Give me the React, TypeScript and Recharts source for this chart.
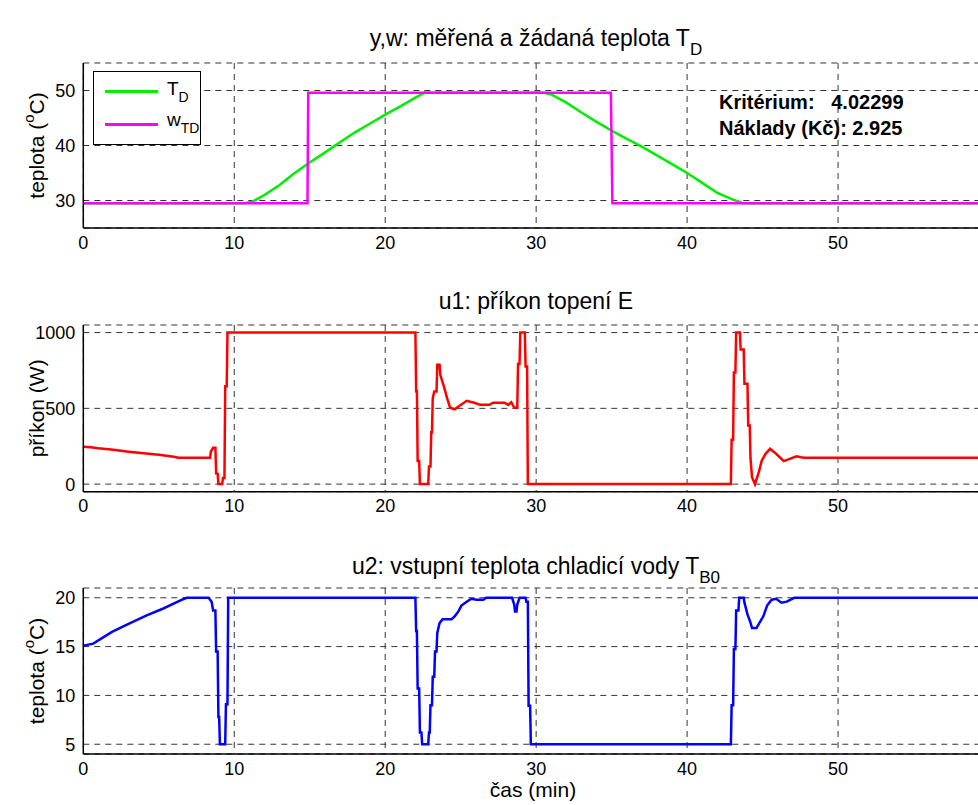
import React from 'react';
import { LineChart, Line, XAxis, YAxis, CartesianGrid, Label } from 'recharts';

// time axis (min)
const xTicks = [0, 10, 20, 30, 40, 50];

// top panel: measured T_D and setpoint w_TD
const tdTime = [0, 10.7, 11.2, 12, 13, 14, 15, 16, 17, 18, 19, 20, 21, 22, 22.6, 30.5, 31, 32, 33, 34, 35, 36, 37, 38, 39, 40, 41, 42, 43, 43.7, 60];
const tdTemp = [29.5, 29.5, 29.8, 31.0, 32.8, 35.0, 36.9, 38.7, 40.6, 42.4, 44.0, 45.6, 47.1, 48.7, 49.6, 49.6, 49.3, 47.8, 46.0, 44.3, 42.7, 41.2, 39.8, 38.2, 36.6, 35.0, 33.2, 31.4, 30.2, 29.5, 29.5];
const wTime = [0, 14.85, 14.9, 34.95, 35.05, 60];
const wTemp = [29.5, 29.5, 49.6, 49.6, 29.5, 29.5];
const tempTicks = [30, 40, 50];

// middle panel: heater power u1
const u1Time = [0, 0.5, 1, 2, 3, 4, 5, 6, 6.3, 8.4, 8.45, 8.6, 8.75, 8.8, 8.9, 8.95, 9.2, 9.25, 9.35, 9.4, 9.5, 9.55, 22.0, 22.05, 22.1, 22.15, 22.25, 22.3, 22.85, 22.9, 23.0, 23.05, 23.1, 23.15, 23.25, 23.4, 23.45, 23.6, 23.65, 23.9, 24.1, 24.3, 24.6, 24.95, 25.4, 25.9, 26.3, 26.9, 27.15, 27.9, 28.15, 28.35, 28.55, 28.75, 28.8, 28.9, 28.95, 29.25, 29.3, 29.4, 29.45, 42.9, 42.95, 43.05, 43.1, 43.2, 43.25, 43.5, 43.55, 43.75, 43.8, 44.0, 44.05, 44.15, 44.2, 44.3, 44.5, 44.75, 44.95, 45.2, 45.5, 45.9, 46.4, 46.8, 47.25, 47.7, 60];
const u1Power = [246, 243, 236, 226, 214, 204, 193, 180, 174, 174, 215, 240, 240, 70, 68, 0, 0, 40, 40, 646, 646, 1000, 1000, 613, 613, 152, 152, 0, 0, 117, 117, 343, 343, 567, 611, 611, 787, 787, 721, 640, 567, 504, 494, 519, 550, 537, 523, 523, 537, 537, 523, 541, 504, 504, 793, 793, 1000, 1000, 776, 776, 0, 0, 293, 293, 736, 736, 1000, 1000, 888, 888, 662, 662, 387, 387, 171, 46, 0, 79, 156, 200, 233, 200, 152, 167, 183, 174, 174];
const powerTicks = [0, 500, 1000];

// bottom panel: cooling water inlet temperature u2
const u2Time = [0, 0.66, 1.9, 3.1, 4.2, 5.3, 6.4, 6.85, 8.3, 8.5, 8.6, 8.75, 8.8, 8.9, 8.95, 9.0, 9.05, 9.4, 9.45, 9.55, 9.6, 22.0, 22.05, 22.1, 22.15, 22.25, 22.3, 22.4, 22.45, 22.85, 22.9, 22.95, 23.0, 23.1, 23.15, 23.25, 23.3, 23.4, 23.45, 23.6, 23.8, 24.4, 24.6, 24.85, 25.05, 25.4, 25.7, 26.05, 26.5, 26.7, 28.4, 28.55, 28.6, 28.7, 28.75, 28.9, 29.3, 29.35, 29.45, 29.5, 29.6, 29.65, 42.9, 42.95, 43.05, 43.1, 43.2, 43.25, 43.4, 43.45, 43.75, 43.8, 44.0, 44.2, 44.3, 44.6, 44.8, 45.05, 45.3, 45.6, 45.9, 46.25, 46.6, 47.1, 60];
const u2Temp = [15.1, 15.3, 16.5, 17.4, 18.2, 18.9, 19.7, 20, 20, 19.6, 18.7, 18.7, 14.5, 14.5, 7.8, 7.8, 5, 5, 9.1, 9.1, 20, 20, 16.6, 16.6, 10.7, 10.7, 6.2, 6.2, 5, 5, 6.2, 6.2, 9.0, 9.0, 11.9, 11.9, 14.5, 14.5, 16.4, 17.4, 17.8, 17.8, 18.1, 18.6, 19.2, 19.6, 19.9, 19.8, 19.8, 20, 20, 19.3, 18.6, 18.6, 19.3, 20, 20, 19.6, 19.6, 8.95, 8.95, 5, 5, 9.0, 9.0, 14.75, 14.75, 18.7, 18.7, 20, 20, 19.5, 18.3, 17.45, 16.9, 16.9, 17.45, 18.1, 19.2, 19.8, 19.9, 19.5, 19.6, 20, 20];
const waterTicks = [5, 10, 15, 20];

const zip = (t: number[], v: number[]) => t.map((x, i) => ({ t: x, v: v[i] }));

const FONT = '"Liberation Sans", Arial, Helvetica, sans-serif';
const PAD_TOP = 10;
const PAD_BOTTOM = 45;
const TICK_FONT = 18;
const LABEL_FONT = 21;

type Series = { data: { t: number; v: number }[]; color: string };

function Panel({ top, bottom, yDomain, yTicks, yLabel, series }: {
  top: number; bottom: number; yDomain: [number, number]; yTicks: number[];
  yLabel: React.ReactNode; series: Series[];
}) {
  const plotH = bottom - top;
  const h = plotH + PAD_TOP + PAD_BOTTOM;
  const cy = PAD_TOP + plotH / 2;
  return (
    <div style={{ position: 'absolute', left: 0, top: top - PAD_TOP }}>
      <LineChart width={1000} height={h} margin={{ top: PAD_TOP, right: 11, bottom: PAD_BOTTOM - 30, left: 33.3 }}>
        <CartesianGrid stroke="#333" strokeDasharray="6 5" />
        <XAxis
          type="number"
          dataKey="t"
          domain={[0, 60]}
          ticks={xTicks}
          interval={0}
          height={30}
          tickLine={false}
          axisLine={{ stroke: '#000', strokeWidth: 1.5 }}
          tick={{ fill: '#000', fontSize: TICK_FONT, fontFamily: FONT }}
          allowDataOverflow
        />
        <XAxis xAxisId="top" orientation="top" type="number" domain={[0, 60]} height={0} tick={false} tickLine={false} axisLine={{ stroke: '#000', strokeWidth: 1.5 }} />
        <YAxis
          type="number"
          domain={yDomain}
          ticks={yTicks}
          interval={0}
          width={50}
          tickLine={false}
          axisLine={{ stroke: '#000', strokeWidth: 1.5 }}
          tick={{ fill: '#000', fontSize: TICK_FONT, fontFamily: FONT }}
          allowDataOverflow
        >
          <Label
            content={() => (
              <text x={36} y={cy} transform={`rotate(-90, 36, ${cy})`} textAnchor="middle" dominantBaseline="central" fontSize={LABEL_FONT} fontFamily={FONT} fill="#000">
                {yLabel}
              </text>
            )}
          />
        </YAxis>
        {series.map((s, i) => (
          <Line key={i} data={s.data} dataKey="v" type="linear" stroke={s.color} strokeWidth={2.5} dot={false} isAnimationActive={false} />
        ))}
      </LineChart>
    </div>
  );
}

const tempLabel = (
  <>
    <tspan>teplota (</tspan>
    <tspan dy={-8} fontSize={15}>o</tspan>
    <tspan dy={8}>C)</tspan>
  </>
);

const titleStyle: React.CSSProperties = {
  position: 'absolute', left: 83, width: 906, textAlign: 'center', fontSize: 23, fontFamily: FONT, lineHeight: 1, color: '#000', whiteSpace: 'nowrap',
};
const subStyle: React.CSSProperties = { fontSize: 17, position: 'relative', top: 9 };

export default function App() {
  return (
    <div style={{ position: 'absolute', left: 0, top: 0, width: 978, height: 805, overflow: 'hidden', background: '#fff', fontFamily: FONT }}>
      <div style={{ ...titleStyle, top: 27 }}>
        y,w: měřená a žádaná teplota T<span style={subStyle}>D</span>
      </div>
      <Panel
        top={62.7}
        bottom={227.7}
        yDomain={[25, 55]}
        yTicks={tempTicks}
        yLabel={tempLabel}
        series={[
          { data: zip(tdTime, tdTemp), color: '#00ee00' },
          { data: zip(wTime, wTemp), color: '#ff00ff' },
        ]}
      />
      {/* legend */}
      <div style={{ position: 'absolute', left: 93, top: 71, width: 106, height: 72, border: '1px solid #000', background: '#fff', fontSize: 19 }}>
        <div style={{ position: 'absolute', left: 11, top: 18, width: 53, height: 3, background: '#00ee00' }} />
        <div style={{ position: 'absolute', left: 73, top: 7, lineHeight: 1 }}>T<span style={{ fontSize: 14, position: 'relative', top: 7 }}>D</span></div>
        <div style={{ position: 'absolute', left: 11, top: 51, width: 53, height: 3, background: '#ff00ff' }} />
        <div style={{ position: 'absolute', left: 73, top: 38, lineHeight: 1 }}>w<span style={{ fontSize: 14, position: 'relative', top: 7 }}>TD</span></div>
      </div>
      <div style={{ position: 'absolute', left: 719, top: 89, fontSize: 20, fontWeight: 'bold', lineHeight: '26px', whiteSpace: 'pre' }}>
        <div>Kritérium:   4.02299</div>
        <div>Náklady (Kč): 2.925</div>
      </div>

      <div style={{ ...titleStyle, top: 290 }}>u1: příkon topení E</div>
      <Panel
        top={325}
        bottom={491.7}
        yDomain={[-50, 1050]}
        yTicks={powerTicks}
        yLabel="příkon (W)"
        series={[{ data: zip(u1Time, u1Power), color: '#ff0000' }]}
      />

      <div style={{ ...titleStyle, top: 555 }}>
        u2: vstupní teplota chladicí vody T<span style={subStyle}>B0</span>
      </div>
      <Panel
        top={588}
        bottom={754}
        yDomain={[4, 21]}
        yTicks={waterTicks}
        yLabel={tempLabel}
        series={[{ data: zip(u2Time, u2Temp), color: '#0000ff' }]}
      />
      <div style={{ position: 'absolute', left: 433, width: 200, top: 779, textAlign: 'center', fontSize: LABEL_FONT, lineHeight: 1 }}>čas (min)</div>
    </div>
  );
}
